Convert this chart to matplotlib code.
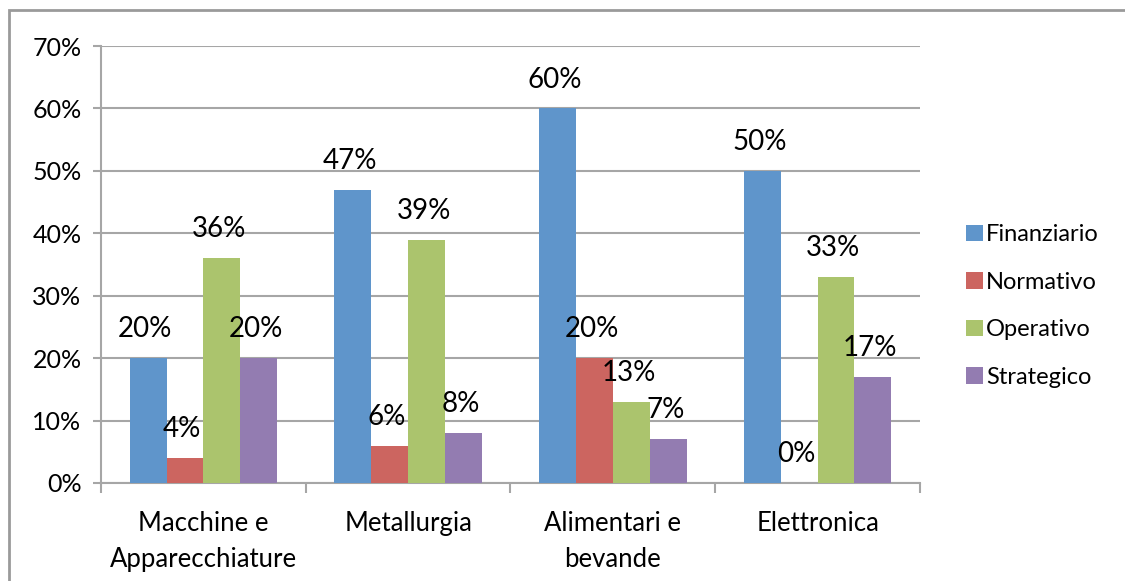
import matplotlib
matplotlib.use("Agg")
import matplotlib.pyplot as plt
from matplotlib.patches import Rectangle
import numpy as np

plt.rcParams['font.family'] = ['Lato', 'DejaVu Sans']

categories = ["Macchine e\nApparecchiature", "Metallurgia", "Alimentari e\nbevande", "Elettronica"]
series_names = ["Finanziario", "Normativo", "Operativo", "Strategico"]
finanziario = [20, 47, 60, 50]
normativo = [4, 6, 20, 0]
operativo = [36, 39, 13, 33]
strategico = [20, 8, 7, 17]
colors = ["#5F95CB", "#CC6560", "#ABC46D", "#937CB1"]
y_ticks = [0, 10, 20, 30, 40, 50, 60, 70]

series = [finanziario, normativo, operativo, strategico]

W, H = 1125, 581
fig = plt.figure(figsize=(W / 100, H / 100), dpi=100)
ax = fig.add_axes([101 / W, 1 - 483 / H, (920 - 101) / W, (483 - 46) / H])

x = np.arange(len(categories))
bw = 0.18
grid_c = "#A6A6A6"

for i, (name, vals, col) in enumerate(zip(series_names, series, colors)):
    pos = x + (i - 1.5) * bw
    ax.bar(pos, vals, width=bw, color=col, label=name, zorder=3)
    for px, v in zip(pos, vals):
        ax.annotate(f"{v}%", (px, v), xytext=(-2, 15), textcoords="offset points",
                    ha="center", va="baseline", fontsize=20, color="black", zorder=5)

ax.set_xlim(-0.5, len(categories) - 0.5)
ax.set_ylim(0, 70)
ax.set_yticks(y_ticks)
ax.set_yticklabels([f"{t}%" for t in y_ticks], fontsize=18)
ax.yaxis.grid(True, color=grid_c, linewidth=1.5, zorder=0)
ax.set_axisbelow(True)

ax.set_xticks(x)
ax.set_xticklabels(categories, fontsize=18.5, linespacing=1.55)
ax.tick_params(axis="x", length=0, pad=20)
ax.set_xticks(np.arange(len(categories) + 1) - 0.5, minor=True)
ax.tick_params(axis="x", which="minor", length=7, width=1.5, color=grid_c)
ax.tick_params(axis="y", length=6, width=1.5, color=grid_c, pad=8)

for s in ["top", "right"]:
    ax.spines[s].set_visible(False)
for s in ["left", "bottom"]:
    ax.spines[s].set_color(grid_c)
    ax.spines[s].set_linewidth(1.5)

leg = fig.legend(loc="upper left", bbox_to_anchor=(945 / W, 1 - 203 / H), frameon=False,
                 fontsize=17, handlelength=0.7, handleheight=0.7, handletextpad=0.15,
                 labelspacing=1.12)

# outer frame around the chart area
fig.patches.append(Rectangle((9 / W, -0.05), 1.2, 1 - 10.5 / H + 0.05, transform=fig.transFigure,
                             fill=False, edgecolor="#9A9A9A", linewidth=2))

fig.savefig("out.png", dpi=100)
